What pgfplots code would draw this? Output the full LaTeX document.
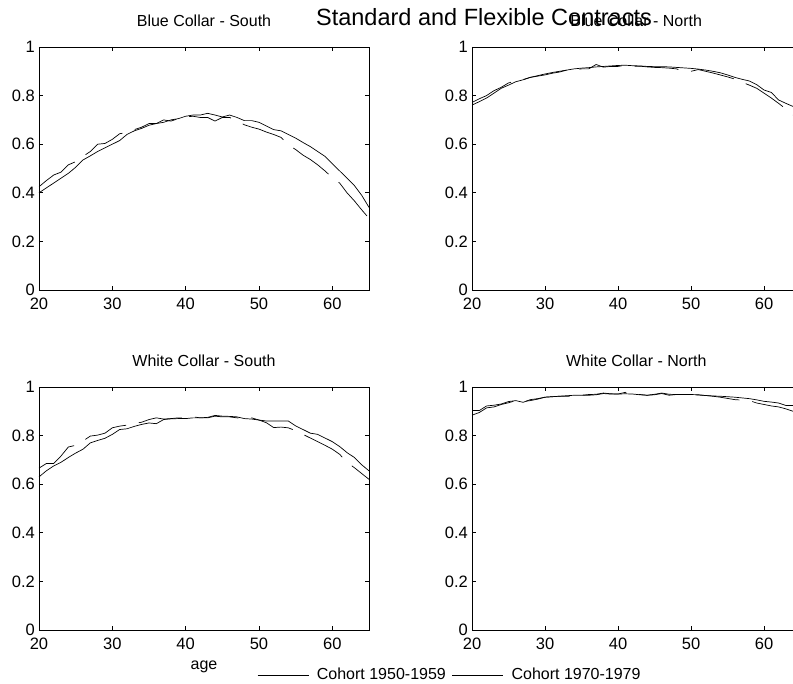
\documentclass[border=0pt]{standalone}
\usepackage{fontspec}
\setmainfont{Liberation Sans}
\usepackage{pgfplots}
\pgfplotsset{compat=1.18}

\pgfplotsset{
  panel/.style={
    scale only axis, width=330pt, height=243pt,
    anchor=south west,
    xmin=20, xmax=65, ymin=0, ymax=1,
    xtick={20,30,...,60}, ytick={0,0.2,...,1},
    tick align=inside, major tick length=4pt,
    axis line style={line width=0.8pt}, every tick/.style={line width=0.6pt, black},
    /pgf/number format/assume math mode=true,
    tick label style={font=\fontsize{16.5}{17}\selectfont},
    yticklabel style={inner xsep=1pt, xshift=-3pt},
    xticklabel style={inner ysep=1pt, yshift=-7pt},
    title style={font=\fontsize{16}{16}\selectfont, at={(0.5,1)}, anchor=base, yshift=14.5pt},
  },
  c50/.style={black, line width=0.7pt},
  c70/.style={black, line width=0.7pt, dash pattern=on 44pt off 13pt},
}

\begin{document}
\begin{tikzpicture}

% Blue collar - south
\begin{axis}[panel, at={(39pt,394pt)}, title={Blue Collar - South}]
\addplot[c50] coordinates {(20,0.40)(21,0.42)(22,0.44)(23,0.46)(24,0.48)(25,0.505)(26,0.535)(27,0.552)(28,0.57)(29,0.585)(30,0.60)(31,0.615)(32,0.64)(33,0.655)(34,0.665)(35,0.678)(36,0.685)(37,0.69)(38,0.70)(39,0.705)(40,0.715)(41,0.72)(42,0.72)(43,0.727)(44,0.72)(45,0.712)(46,0.72)(47,0.71)(48,0.697)(49,0.697)(50,0.69)(51,0.675)(52,0.66)(53,0.655)(54,0.64)(55,0.625)(56,0.607)(57,0.59)(58,0.57)(59,0.55)(60,0.52)(61,0.49)(62,0.46)(63,0.43)(64,0.39)(65,0.34)};
\addplot[c70] coordinates {(20,0.425)(21,0.45)(22,0.473)(23,0.485)(24,0.515)(25,0.528)(26,0.55)(27,0.57)(28,0.60)(29,0.603)(30,0.62)(31,0.643)(32,0.648)(33,0.66)(34,0.67)(35,0.685)(36,0.685)(37,0.70)(38,0.695)(39,0.705)(40,0.712)(41,0.715)(42,0.71)(43,0.71)(44,0.695)(45,0.71)(46,0.71)(47,0.695)(48,0.68)(49,0.67)(50,0.662)(51,0.65)(52,0.64)(53,0.628)(54,0.597)(55,0.578)(56,0.555)(57,0.537)(58,0.515)(59,0.49)(60,0.462)(61,0.44)(62,0.40)(63,0.367)(64,0.33)(65,0.295)};
\end{axis}

% Blue collar - north
\begin{axis}[panel, at={(472pt,394pt)}, width=328.5pt, title={Blue Collar - North}]
\addplot[c50] coordinates {(20,0.761)(21,0.775)(22,0.79)(23,0.81)(24,0.83)(25,0.843)(26,0.857)(27,0.865)(28,0.875)(29,0.882)(30,0.889)(31,0.895)(32,0.90)(33,0.905)(34,0.91)(35,0.913)(36,0.915)(37,0.918)(38,0.92)(39,0.922)(40,0.924)(41,0.925)(42,0.923)(43,0.922)(44,0.92)(45,0.919)(46,0.919)(47,0.918)(48,0.916)(49,0.914)(50,0.912)(51,0.909)(52,0.905)(53,0.90)(54,0.894)(55,0.885)(56,0.875)(57,0.867)(58,0.86)(59,0.845)(60,0.823)(61,0.813)(62,0.782)(63,0.768)(64,0.755)(65,0.735)};
\addplot[c70] coordinates {(20,0.772)(21,0.787)(22,0.80)(23,0.82)(24,0.834)(25,0.852)(26,0.86)(27,0.866)(28,0.875)(29,0.88)(30,0.885)(31,0.892)(32,0.897)(33,0.905)(34,0.905)(35,0.91)(36,0.91)(37,0.928)(38,0.917)(39,0.92)(40,0.92)(41,0.925)(42,0.92)(43,0.921)(44,0.918)(45,0.916)(46,0.915)(47,0.913)(48,0.91)(49,0.90)(50,0.90)(51,0.907)(52,0.90)(53,0.893)(54,0.885)(55,0.877)(56,0.868)(57,0.855)(58,0.843)(59,0.83)(60,0.81)(61,0.79)(62,0.768)(63,0.745)(64,0.72)(65,0.70)};
\end{axis}

% White collar - south
\begin{axis}[panel, at={(39pt,54pt)}, title={White Collar - South},
  xlabel={age}, xlabel style={font=\fontsize{16}{16}\selectfont, at={(0.5,0)}, anchor=base, yshift=-40pt},
  legend columns=2,
  legend style={draw=none, fill=none, at={(0.6606,-0.185)}, anchor=west, inner sep=0pt,
    font=\fontsize{16}{16}\selectfont,
    /tikz/every odd column/.append style={column sep=6pt},
    /tikz/every even column/.append style={column sep=4pt}},
  legend cell align=left,
  legend image code/.code={\draw[#1, solid] (0pt,0pt) -- (51pt,0pt);}]
\addplot[c50] coordinates {(20,0.63)(21,0.655)(22,0.675)(23,0.69)(24,0.71)(25,0.728)(26,0.744)(27,0.77)(28,0.78)(29,0.789)(30,0.805)(31,0.825)(32,0.828)(33,0.838)(34,0.846)(35,0.852)(36,0.849)(37,0.866)(38,0.869)(39,0.87)(40,0.87)(41,0.873)(42,0.873)(43,0.875)(44,0.883)(45,0.88)(46,0.879)(47,0.877)(48,0.87)(49,0.868)(50,0.864)(51,0.86)(52,0.86)(53,0.86)(54,0.86)(55,0.84)(56,0.825)(57,0.81)(58,0.805)(59,0.79)(60,0.775)(61,0.755)(62,0.73)(63,0.71)(64,0.68)(65,0.655)};
\addlegendentry{Cohort 1950-1959}
\addplot[c70] coordinates {(20,0.666)(21,0.685)(22,0.685)(23,0.716)(24,0.753)(25,0.76)(26,0.778)(27,0.798)(28,0.802)(29,0.81)(30,0.832)(31,0.839)(32,0.843)(33,0.85)(34,0.855)(35,0.866)(36,0.873)(37,0.868)(38,0.87)(39,0.873)(40,0.873)(41,0.877)(42,0.873)(43,0.873)(44,0.88)(45,0.877)(46,0.877)(47,0.873)(48,0.868)(49,0.873)(50,0.864)(51,0.853)(52,0.833)(53,0.835)(54,0.832)(55,0.82)(56,0.805)(57,0.79)(58,0.775)(59,0.76)(60,0.744)(61,0.723)(62,0.69)(63,0.668)(64,0.644)(65,0.62)};
\addlegendentry{Cohort 1970-1979}
\end{axis}

% White collar - north
\begin{axis}[panel, at={(472pt,54pt)}, width=328.5pt, title={White Collar - North}]
\addplot[c50] coordinates {(20,0.903)(21,0.903)(22,0.922)(23,0.925)(24,0.93)(25,0.94)(26,0.944)(27,0.937)(28,0.948)(29,0.952)(30,0.958)(31,0.96)(32,0.962)(33,0.964)(34,0.966)(35,0.966)(36,0.966)(37,0.968)(38,0.973)(39,0.971)(40,0.971)(41,0.972)(42,0.971)(43,0.968)(44,0.966)(45,0.968)(46,0.973)(47,0.966)(48,0.969)(49,0.969)(50,0.969)(51,0.968)(52,0.965)(53,0.963)(54,0.962)(55,0.96)(56,0.958)(57,0.955)(58,0.952)(59,0.947)(60,0.941)(61,0.938)(62,0.934)(63,0.924)(64,0.924)(65,0.922)};
\addplot[c70] coordinates {(20,0.884)(21,0.895)(22,0.914)(23,0.918)(24,0.928)(25,0.935)(26,0.944)(27,0.94)(28,0.944)(29,0.95)(30,0.958)(31,0.96)(32,0.962)(33,0.962)(34,0.962)(35,0.966)(36,0.969)(37,0.97)(38,0.975)(39,0.972)(40,0.971)(41,0.978)(42,0.971)(43,0.969)(44,0.966)(45,0.97)(46,0.975)(47,0.97)(48,0.969)(49,0.969)(50,0.969)(51,0.967)(52,0.965)(53,0.962)(54,0.958)(55,0.953)(56,0.948)(57,0.946)(58,0.944)(59,0.934)(60,0.928)(61,0.922)(62,0.918)(63,0.91)(64,0.90)(65,0.89)};
\end{axis}

\node[anchor=base, font=\fontsize{23.5}{24}\selectfont] at (484pt,658pt) {Standard and Flexible Contracts};

% the figure is cut off on the right, like the reference
\pgfresetboundingbox
\path (0pt,0pt) rectangle (793pt,684pt);
\end{tikzpicture}
\end{document}
